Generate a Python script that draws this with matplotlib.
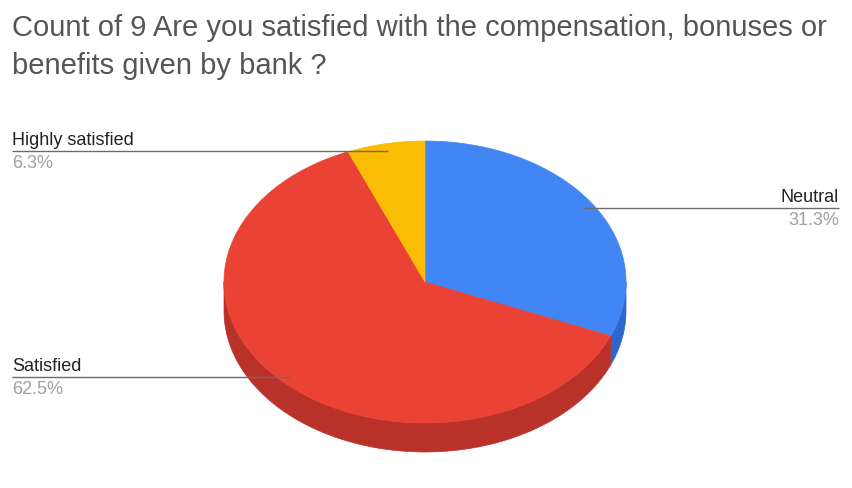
import numpy as np
import matplotlib
matplotlib.use("Agg")
import matplotlib.pyplot as plt
from matplotlib.patches import Polygon
from decimal import Decimal, ROUND_HALF_UP

# --- Data ---
labels = ["Neutral", "Satisfied", "Highly satisfied"]
counts = [5, 10, 1]
top_colors = ["#4285F4", "#EA4335", "#FBBC04"]
side_colors = ["#2F66CC", "#B9322A", "#C99200"]

title = "Count of 9 Are you satisfied with the compensation, bonuses or\nbenefits given by bank ?"

plt.rcParams["font.family"] = ["Liberation Sans", "DejaVu Sans"]

# --- Geometry (pixel space, y grows downward) ---
W, H = 853, 489
cx, cy = 425, 283       # centre of top face
rx, ry = 201, 141       # ellipse semi-axes
depth = 29              # thickness of the pie


def pt(theta_deg, r=1.0, dy=0.0):
    # theta measured clockwise from 12 o'clock
    t = np.radians(theta_deg)
    return cx + rx * r * np.sin(t), cy - ry * r * np.cos(t) + dy


def pct(f):
    return str(Decimal(str(f * 100)).quantize(Decimal("0.1"), rounding=ROUND_HALF_UP)) + "%"


fig = plt.figure(figsize=(W / 100, H / 100), dpi=100)
ax = fig.add_axes([0, 0, 1, 1])
ax.set_xlim(0, W)
ax.set_ylim(H, 0)
ax.axis("off")

total = sum(counts)
fracs = [c / total for c in counts]
starts = np.cumsum([0] + fracs[:-1]) * 360
ends = starts + np.array(fracs) * 360

# side walls: only the front half (90..270 deg) is visible
for s, e, col in zip(starts, ends, side_colors):
    a0, a1 = max(s, 90), min(e, 270)
    if a1 <= a0:
        continue
    th = np.linspace(a0, a1, 80)
    upper = [pt(t) for t in th]
    lower = [pt(t, dy=depth) for t in th[::-1]]
    ax.add_patch(Polygon(upper + lower, closed=True, fc=col, ec=col, lw=0.5))

# top faces
for s, e, col in zip(starts, ends, top_colors):
    th = np.linspace(s, e, 200)
    verts = [(cx, cy)] + [pt(t) for t in th]
    ax.add_patch(Polygon(verts, closed=True, fc=col, ec=col, lw=0.5))

# leader lines and labels
label_pos = {
    "Neutral": (839, "right"),
    "Satisfied": (12, "left"),
    "Highly satisfied": (12, "left"),
}
for lab, s, e, f in zip(labels, starts, ends, fracs):
    ax_x, ay = pt((s + e) / 2, r=0.95)
    tx, ha = label_pos[lab]
    ax.plot([ax_x, tx], [ay, ay], color="#6b6b6b", lw=1.0, solid_capstyle="butt")
    ax.text(tx, ay - 3, lab, ha=ha, va="bottom", fontsize=13, color="#222222")
    ax.text(tx, ay + 3, pct(f), ha=ha, va="top", fontsize=13, color="#a0a0a0")

ax.text(12, 14, title, ha="left", va="top", fontsize=21, color="#555555", linespacing=1.45)

fig.savefig("out.png", dpi=100, facecolor="white")
plt.close(fig)
